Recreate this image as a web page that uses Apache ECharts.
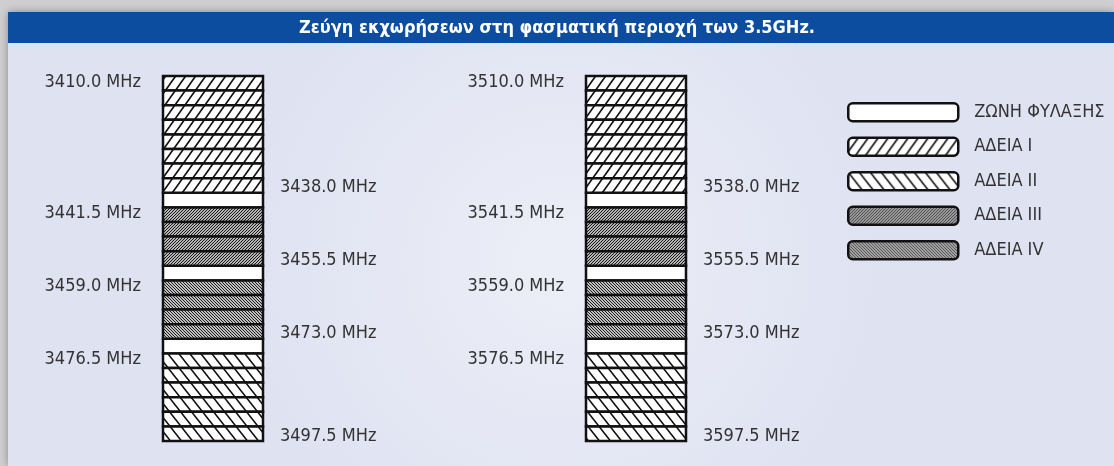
<!DOCTYPE html>
<html>
<head>
<meta charset="utf-8">
<script src="https://cdn.jsdelivr.net/npm/echarts@6/dist/echarts.min.js"></script>
<style>
  html, body { margin: 0; padding: 0; }
  #chart { width: 1114px; height: 466px; }
</style>
</head>
<body>
<div id="chart"></div>
<script>
// band names, in legend order
const bands = ['ΖΩΝΗ ΦΥΛΑΞΗΣ', 'ΑΔΕΙΑ I', 'ΑΔΕΙΑ II', 'ΑΔΕΙΑ III', 'ΑΔΕΙΑ IV']
const channelWidth = 3.5 // MHz per block

// lower column (3410 - 3497.5 MHz), block start frequencies
const guardLow = [3438, 3455.5, 3473]
const licIlow = [3410, 3413.5, 3417, 3420.5, 3424, 3427.5, 3431, 3434.5]
const licIIlow = [3476.5, 3480, 3483.5, 3487, 3490.5, 3494]
const licIIIlow = [3441.5, 3445, 3448.5, 3452]
const licIVlow = [3459, 3462.5, 3466, 3469.5]

// upper column (3510 - 3597.5 MHz)
const guardHigh = [3538, 3555.5, 3573]
const licIhigh = [3510, 3513.5, 3517, 3520.5, 3524, 3527.5, 3531, 3534.5]
const licIIhigh = [3576.5, 3580, 3583.5, 3587, 3590.5, 3594]
const licIIIhigh = [3541.5, 3545, 3548.5, 3552]
const licIVhigh = [3559, 3562.5, 3566, 3569.5]

// frequency tick labels
const leftLabelsLow = [3410, 3441.5, 3459, 3476.5]
const rightLabelsLow = [3438, 3455.5, 3473, 3497.5]
const leftLabelsHigh = [3510, 3541.5, 3559, 3576.5]
const rightLabelsHigh = [3538, 3555.5, 3573, 3597.5]

const rangeLow = [3410, 3497.5]
const rangeHigh = [3510, 3597.5]

const FONT = "'DejaVu Sans Condensed', 'Liberation Sans', sans-serif"

// hatch tile: dir 1 = "/", -1 = "\"
function hatch (w, h, dir, lw) {
  const c = document.createElement('canvas')
  c.width = w
  c.height = h
  const g = c.getContext('2d')
  g.fillStyle = '#ffffff'
  g.fillRect(0, 0, w, h)
  g.strokeStyle = '#111111'
  g.lineWidth = lw
  g.beginPath()
  for (const o of [-w, 0, w]) {
    if (dir > 0) {
      g.moveTo(o - w, 2 * h); g.lineTo(o + 2 * w, -h)
    } else {
      g.moveTo(o - w, -h); g.lineTo(o + 2 * w, 2 * h)
    }
  }
  g.stroke()
  return { image: c, repeat: 'repeat' }
}

const fills = {
  'ΖΩΝΗ ΦΥΛΑΞΗΣ': '#ffffff',
  'ΑΔΕΙΑ I': hatch(10, 14, 1, 1.6),
  'ΑΔΕΙΑ II': hatch(11, 14, -1, 1.6),
  'ΑΔΕΙΑ III': hatch(3, 3, 1, 1.2),
  'ΑΔΕΙΑ IV': hatch(3, 3, -1, 1.05)
}

const columns = [
  { grid: 0, data: [guardLow, licIlow, licIIlow, licIIIlow, licIVlow] },
  { grid: 1, data: [guardHigh, licIhigh, licIIhigh, licIIIhigh, licIVhigh] }
]

function renderBlock (name) {
  return function (params, api) {
    const f = api.value(0)
    const a = api.coord([0, f])
    const b = api.coord([1, f + channelWidth])
    return {
      type: 'rect',
      shape: { x: a[0], y: a[1], width: b[0] - a[0], height: b[1] - a[1] },
      style: { fill: fills[name], stroke: '#111111', lineWidth: 2.5 }
    }
  }
}

const series = []
columns.forEach(col => {
  col.data.forEach((starts, i) => {
    series.push({
      type: 'custom',
      name: bands[i],
      xAxisIndex: col.grid,
      yAxisIndex: col.grid * 2,
      itemStyle: { color: fills[bands[i]] },
      renderItem: renderBlock(bands[i]),
      data: starts.map(v => [v])
    })
  })
})

function freqAxis (grid, range, values, side) {
  return {
    type: 'value',
    gridIndex: grid,
    position: side,
    inverse: true,
    min: range[0],
    max: range[1],
    axisLine: { show: false },
    axisTick: { show: false },
    splitLine: { show: false },
    axisLabel: {
      customValues: values,
      formatter: v => v.toFixed(1) + ' MHz',
      fontFamily: FONT,
      fontSize: 18,
      color: '#333333',
      margin: side === 'left' ? 22 : 17,
      verticalAlign: side === 'left' ? 'top' : 'bottom',
      lineHeight: side === 'left' ? 12 : 10
    }
  }
}

const chart = echarts.init(document.getElementById('chart'))

const option = {
  animation: false,
  graphic: [
    { type: 'rect', z: -10, silent: true, shape: { x: 0, y: 0, width: 1114, height: 466 }, style: { fill: '#cfcfd2' } },
    {
      type: 'rect', z: -9, silent: true,
      shape: { x: 8, y: 12, width: 1106, height: 454 },
      style: {
        fill: new echarts.graphic.RadialGradient(0.5, 0.55, 0.7, [
          { offset: 0, color: '#eceef7' },
          { offset: 1, color: '#dfe2f1' }
        ]),
        shadowBlur: 8,
        shadowColor: 'rgba(0,0,0,0.35)'
      }
    },
    { type: 'rect', z: -8, silent: true, shape: { x: 8, y: 12, width: 1106, height: 31 }, style: { fill: '#0d4d9f' } }
  ],
  title: {
    text: 'Ζεύγη εκχωρήσεων στη φασματική περιοχή των 3.5GHz.',
    left: 'center',
    top: 19,
    padding: [0, 0, 0, 30],
    textStyle: { color: '#ffffff', fontFamily: FONT, fontWeight: 'bold', fontSize: 18 }
  },
  legend: {
    orient: 'vertical',
    left: 842,
    top: 97,
    itemWidth: 110,
    itemHeight: 18,
    itemGap: 14,
    icon: 'roundRect',
    selectedMode: false,
    data: bands.map(name => ({
      name,
      itemStyle: { color: fills[name], borderColor: '#111111', borderWidth: 2.5 }
    })),
    textStyle: { fontFamily: FONT, fontSize: 18, color: '#333333', lineHeight: 20, padding: [0, 0, 0, 11] }
  },
  grid: [
    { left: 163, top: 76, width: 100, height: 365, outerBoundsMode: 'none' },
    { left: 586, top: 76, width: 100, height: 365, outerBoundsMode: 'none' }
  ],
  xAxis: [
    { type: 'value', gridIndex: 0, min: 0, max: 1, show: false },
    { type: 'value', gridIndex: 1, min: 0, max: 1, show: false }
  ],
  yAxis: [
    freqAxis(0, rangeLow, leftLabelsLow, 'left'),
    freqAxis(0, rangeLow, rightLabelsLow, 'right'),
    freqAxis(1, rangeHigh, leftLabelsHigh, 'left'),
    freqAxis(1, rangeHigh, rightLabelsHigh, 'right')
  ],
  series
}

chart.setOption(option)
</script>
</body>
</html>
